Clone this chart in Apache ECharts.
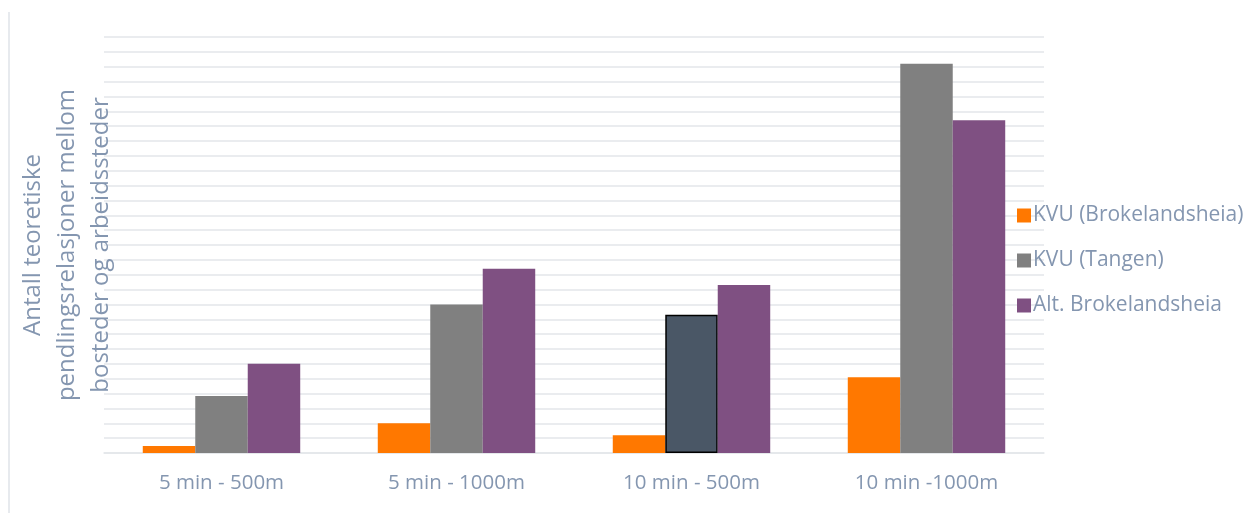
<!DOCTYPE html>
<html>
<head>
<meta charset="utf-8">
<script src="https://cdn.jsdelivr.net/npm/echarts@6/dist/echarts.min.js"></script>
<style>
html,body{margin:0;padding:0;background:#fff;}
#c{width:1249px;height:513px;}
</style>
</head>
<body>
<div id="c"></div>
<script>
const categories = ['5 min - 500m', '5 min - 1000m', '10 min - 500m', '10 min -1000m'];
const seriesNames = ['KVU (Brokelandsheia)', 'KVU (Tangen)', 'Alt. Brokelandsheia'];
const kvuBrokelandsheia = [4.7, 20, 12, 51];
const kvuTangen = [38.4, 100, 93, 262];
const altBrokelandsheia = [60, 124, 113, 224];
const yTitle = 'Antall teoretiske\npendlingsrelasjoner mellom\nbosteder og arbeidssteder';

const textColor = '#8496b0';
const font = 'Open Sans';

const chart = echarts.init(document.getElementById('c'));
const tangenData = kvuTangen.map((v, i) => i === 2
  ? { value: v, itemStyle: { color: '#4a5766', borderColor: '#000', borderWidth: 1.5 } }
  : v);

chart.setOption({
  animation: false,
  textStyle: { fontFamily: font },
  color: ['#ff7800', '#808080', '#7f5082'],
  graphic: [{
    type: 'line', shape: { x1: 9, y1: 12, x2: 9, y2: 513 },
    style: { stroke: '#dfe3e8', lineWidth: 1.5 }
  }],
  grid: { left: 104, right: 205, top: 37, bottom: 60, containLabel: false, outerBoundsMode: 'none' },
  legend: {
    orient: 'vertical', left: 1017, top: 205, padding: 0,
    itemWidth: 14, itemHeight: 14, itemGap: 24,
    icon: 'rect',
    textStyle: { color: textColor, fontSize: 21, fontFamily: font, padding: [0, 0, 0, -3] },
    data: seriesNames
  },
  xAxis: {
    type: 'category', data: categories,
    axisLine: { lineStyle: { color: '#e3e6ea', width: 1.5 } },
    axisTick: { show: false },
    axisLabel: { color: textColor, fontSize: 20.5, margin: 20, fontFamily: font }
  },
  yAxis: {
    type: 'value', min: 0, max: 280, interval: 10,
    name: yTitle, nameLocation: 'middle', nameRotate: 90, nameGap: 37,
    nameTextStyle: { color: textColor, fontSize: 24, lineHeight: 34, fontFamily: font, verticalAlign: 'middle', align: 'center' },
    axisLabel: { show: false }, axisLine: { show: false }, axisTick: { show: false },
    splitLine: { lineStyle: { color: '#e3e6ea', width: 1.5 } }
  },
  series: [
    { name: seriesNames[0], type: 'bar', data: kvuBrokelandsheia, barGap: '0%', barCategoryGap: '33%' },
    { name: seriesNames[1], type: 'bar', data: tangenData },
    { name: seriesNames[2], type: 'bar', data: altBrokelandsheia }
  ]
});
</script>
</body>
</html>
